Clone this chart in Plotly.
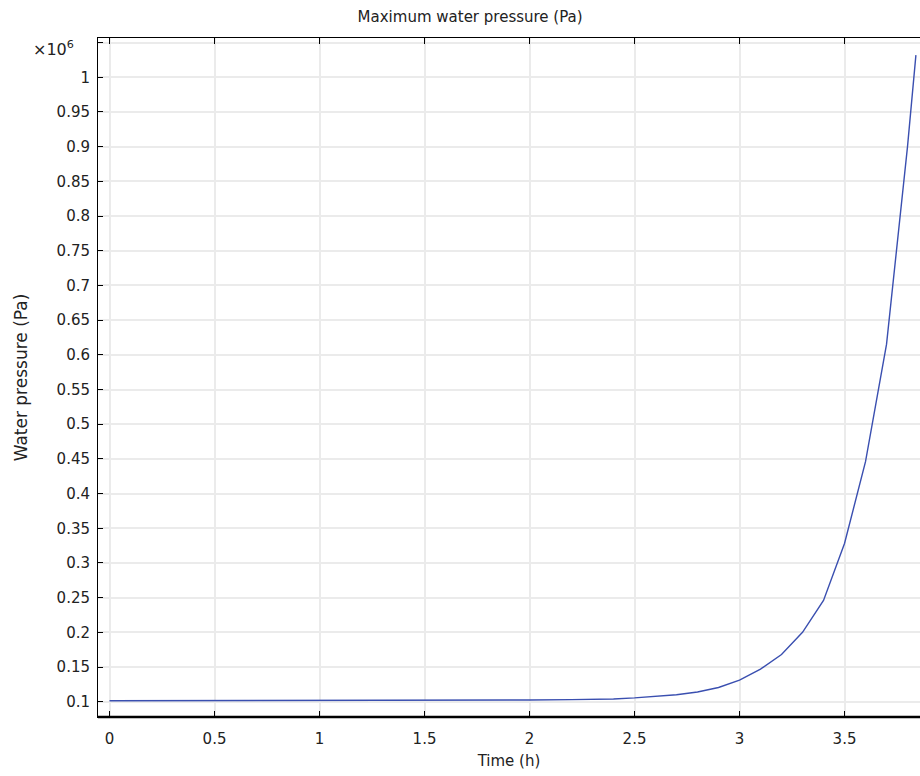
import plotly.graph_objects as go

# Data (time in hours, pressure in Pa)
time_h = [0.0, 0.5, 1.0, 1.5, 2.0, 2.2, 2.3, 2.4, 2.5, 2.6, 2.7, 2.8, 2.9,
          3.0, 3.1, 3.2, 3.3, 3.4, 3.5, 3.6, 3.7, 3.8, 3.84]
pressure_pa = [101330, 101400, 101600, 101900, 102500, 103000, 103400, 104000,
               105500, 107500, 110000, 114000, 120500, 131000, 147000, 168000,
               200000, 246000, 328000, 446000, 615000, 900000, 1032000]

scale = 1e6
y_tickvals = [0.1, 0.15, 0.2, 0.25, 0.3, 0.35, 0.4, 0.45, 0.5, 0.55, 0.6, 0.65,
              0.7, 0.75, 0.8, 0.85, 0.9, 0.95, 1.0, 1.05]
y_ticktext = ["0.1", "0.15", "0.2", "0.25", "0.3", "0.35", "0.4", "0.45", "0.5",
              "0.55", "0.6", "0.65", "0.7", "0.75", "0.8", "0.85", "0.9", "0.95",
              "1", ""]
x_tickvals = [0, 0.5, 1, 1.5, 2, 2.5, 3, 3.5]
x_ticktext = ["0", "0.5", "1", "1.5", "2", "2.5", "3", "3.5"]

fig = go.Figure()
fig.add_trace(go.Scatter(
    x=time_h, y=[p / scale for p in pressure_pa], mode="lines",
    line=dict(color="#3a4fb0", width=1.4), showlegend=False,
))

font = "DejaVu Sans, Verdana, sans-serif"
fig.update_layout(
    width=920, height=776,
    margin=dict(l=98, r=0, t=38, b=59),
    paper_bgcolor="white", plot_bgcolor="white",
    font=dict(family=font, size=15, color="#222"),
    title=dict(text="Maximum water pressure (Pa)", x=0.511, xanchor="center",
               y=0.978, yanchor="middle", font=dict(size=15, color="#222")),
    xaxis=dict(
        range=[-0.0548, 3.8595], tickvals=x_tickvals, ticktext=x_ticktext,
        ticks="inside", ticklen=6, tickcolor="black", tickwidth=1,
        showline=True, linecolor="black", linewidth=1, mirror="ticks",
        showgrid=True, gridcolor="#ebebeb", gridwidth=2, zeroline=False,
        tickfont=dict(size=15, color="#222"), ticklabelstandoff=8,
        title=dict(text="Time (h)", font=dict(size=15, color="#222"), standoff=8),
    ),
    yaxis=dict(
        range=[0.078, 1.0566], tickvals=y_tickvals, ticktext=y_ticktext,
        ticks="inside", ticklen=5, tickcolor="black", tickwidth=1,
        showline=True, linecolor="black", linewidth=1, mirror=False,
        showgrid=True, gridcolor="#ebebeb", gridwidth=2, zeroline=False,
        tickfont=dict(size=15, color="#222"), ticklabelstandoff=4,
        title=dict(text="Water pressure (Pa)",
                   font=dict(size=17, color="#222", weight=500),
                   standoff=24),
    ),
)

# thicker bottom axis line
fig.add_shape(type="line", xref="paper", yref="paper", x0=0, x1=1, y0=0, y1=0,
              line=dict(color="black", width=2.5))

fig.add_annotation(text="×10<sup>6</sup>", xref="paper", yref="paper",
                   x=-0.082, y=0.985, xanchor="left", yanchor="middle",
                   showarrow=False, font=dict(size=16, color="#222"))

fig.write_html("out.html")
